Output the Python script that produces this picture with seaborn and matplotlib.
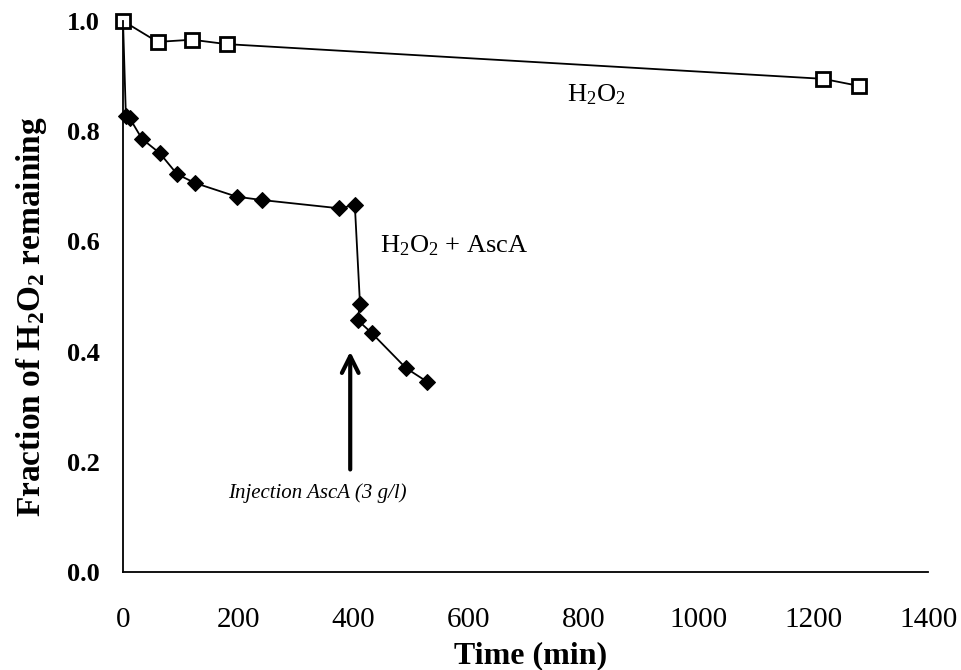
import matplotlib
matplotlib.use('Agg')

import numpy as np
import pandas as pd
import seaborn as sns
import matplotlib.pyplot as plt

# H2O2 alone
t_h2o2 = [0, 60, 120, 180, 1217, 1280]
f_h2o2 = [1.0, 0.962, 0.966, 0.958, 0.895, 0.882]

# H2O2 + AscA (first point shared with the start of H2O2, no marker drawn)
t_asca = [0, 5, 12, 33, 64, 94, 125, 198, 242, 376, 403, 412, 408, 432, 492, 529]
f_asca = [1.0, 0.828, 0.823, 0.786, 0.760, 0.722, 0.706, 0.681, 0.675, 0.660, 0.666,
          0.486, 0.457, 0.434, 0.370, 0.345]

x_ticks = [0, 200, 400, 600, 800, 1000, 1200, 1400]
y_ticks = [0.0, 0.2, 0.4, 0.6, 0.8, 1.0]

sns.set_style('white')
plt.rcParams['font.family'] = ['Liberation Serif', 'DejaVu Serif']
plt.rcParams['text.color'] = 'black'
plt.rcParams['axes.labelcolor'] = 'black'
plt.rcParams['xtick.color'] = 'black'
plt.rcParams['ytick.color'] = 'black'
plt.rcParams['mathtext.fontset'] = 'custom'
plt.rcParams['mathtext.rm'] = 'Liberation Serif'
plt.rcParams['mathtext.bf'] = 'Liberation Serif:bold'
plt.rcParams['mathtext.it'] = 'Liberation Serif:italic'

fig = plt.figure(figsize=(9.61, 6.70), dpi=100)
ax = fig.add_axes([0.128, 0.1463, 0.838, 0.8224])

df_asca = pd.DataFrame({'t': t_asca, 'f': f_asca})
df_h2o2 = pd.DataFrame({'t': t_h2o2, 'f': f_h2o2})

sns.lineplot(data=df_asca, x='t', y='f', sort=False, color='black', lw=1.3,
             marker='D', markersize=8.5, markerfacecolor='black', markeredgecolor='black',
             markevery=list(range(1, len(t_asca))), clip_on=False, ax=ax)
sns.lineplot(data=df_h2o2, x='t', y='f', sort=False, color='black', lw=1.3,
             marker='s', markersize=10, markerfacecolor='white', markeredgecolor='black',
             markeredgewidth=2, clip_on=False, ax=ax)

ax.set_xlim(0, 1400)
ax.set_ylim(0, 1.0)
ax.set_xticks(x_ticks)
ax.set_yticks(y_ticks)
ax.set_xticklabels([str(v) for v in x_ticks], fontsize=21)
ax.set_yticklabels([f'{v:.1f}' for v in y_ticks], fontsize=19, fontweight='bold')

for s in ['top', 'right']:
    ax.spines[s].set_visible(False)
for s in ['left', 'bottom']:
    ax.spines[s].set_color('black')
    ax.spines[s].set_linewidth(1.3)
ax.tick_params(axis='both', direction='out', length=7, width=1.3, color='black')
ax.tick_params(axis='x', pad=18)
ax.tick_params(axis='y', pad=10)

ax.set_xlabel('Time (min)', fontsize=23, fontweight='bold')
ax.set_ylabel(r'Fraction of $\mathbf{H_2O_2}$ remaining', fontsize=24, fontweight='bold')
ax.xaxis.set_label_coords(0.506, -0.125)
ax.yaxis.set_label_coords(-0.092, 0.463)

ax.text(772, 0.866, r'H$_2$O$_2$', fontsize=19, ha='left', va='center')
ax.text(447, 0.593, r'H$_2$O$_2$ + AscA', fontsize=19, ha='left', va='center')

ax.annotate('', xy=(395, 0.405), xytext=(395, 0.181),
            arrowprops=dict(arrowstyle='->', lw=3, color='black', mutation_scale=30))
ax.text(338, 0.143, 'Injection AscA (3 g/l)', fontsize=15, style='italic',
        ha='center', va='center')

plt.savefig('out.png', dpi=100)
plt.close()
